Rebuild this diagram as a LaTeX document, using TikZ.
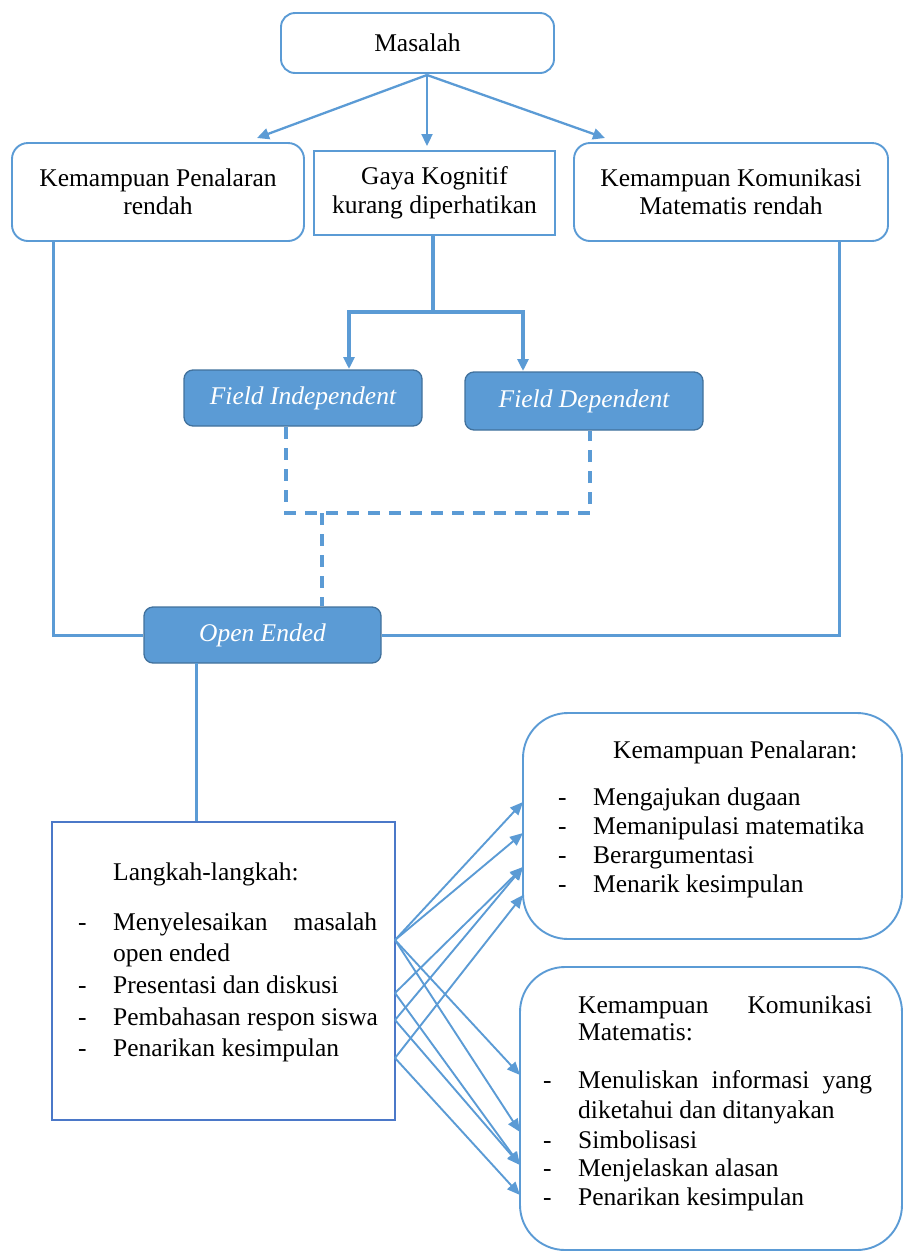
\documentclass[tikz,border=0pt]{standalone}
\usepackage{fontspec}
\setmainfont{Liberation Serif}
\usetikzlibrary{arrows.meta}
\definecolor{lblue}{RGB}{91,155,213}
\definecolor{dblue}{RGB}{65,113,156}
\definecolor{kblue}{RGB}{75,120,200}
\begin{document}
\begin{tikzpicture}[x=1pt,y=-1pt,
  txt/.style={font=\fontsize{25.5}{28.5}\selectfont, inner sep=0pt, text=black},
  wbox/.style={draw=lblue, line width=1.9pt, fill=white, rounded corners=14pt, align=center, txt},
  sbox/.style={draw=lblue, line width=1.9pt, fill=white, align=center, txt},
  bbox/.style={draw=dblue, line width=1.3pt, fill=lblue, rounded corners=9pt, txt, text=white, font=\fontsize{25.5}{28.5}\selectfont\itshape},
  bigbox/.style={draw=lblue, line width=1.9pt, fill=white, rounded corners=45pt},
  ln/.style={draw=lblue, line width=3pt},
  dsh/.style={draw=lblue, line width=3.4pt, dash pattern=on 12pt off 9pt},
  arr/.style={draw=lblue, line width=2.3pt, -{Triangle[length=12pt,width=11pt]}},
  arrb/.style={draw=lblue, line width=3.2pt, -{Triangle[length=12pt,width=11pt]}},
  farr/.style={draw=lblue, line width=1.9pt, -{Triangle[length=13pt,width=11pt]}},
  lw/.style={txt, anchor=base west}
]
\useasboundingbox (0,0) rectangle (904,1251);

% top boxes
\node[wbox, minimum width=273pt, minimum height=60pt] (ms) at (417.5,43) {Masalah};
\node[wbox, rounded corners=16pt, minimum width=292pt, minimum height=98pt] (kp) at (158,192) {Kemampuan Penalaran\\rendah};
\node[sbox, minimum width=241pt, minimum height=84pt] (gk) at (434.5,193) {Gaya Kognitif\\kurang diperhatikan};
\node[wbox, rounded corners=16pt, minimum width=314pt, minimum height=98pt] (kk) at (731,192) {Kemampuan Komunikasi\\Matematis rendah};

% arrows from Masalah
\coordinate (mf) at (427,75);
\coordinate (kpt) at (257,138);
\coordinate (gkt) at (427,146);
\coordinate (kkt) at (605,138);
\draw[arr] (mf) -- (kpt);
\draw[arr] (mf) -- (gkt);
\draw[arr] (mf) -- (kkt);

% cognitive style boxes
\node[bbox, minimum width=238pt, minimum height=56pt] (fi) at (303,398) {Field Independent};
\node[bbox, minimum width=238pt, minimum height=58pt] (fd) at (584,401) {Field Dependent};

\coordinate (gkb) at (433,235);
\coordinate (gf) at (433,312);
\coordinate (fit) at (349,369);
\coordinate (fdt) at (523,371);
\draw[ln, line width=3.4pt] (gkb) -- (gf);
\draw[arrb] (gf) -| (fit);
\draw[arrb] (gf) -| (fdt);

% open ended
\node[bbox, minimum width=237pt, minimum height=56pt] (oe) at (262.5,635) {Open Ended};

% dashed connection
\coordinate (fib) at (286,427);
\coordinate (fdb) at (590,431);
\coordinate (dj) at (322,513);
\draw[dsh] (fib) |- (dj) -| (fdb);
\draw[dsh] (dj) -- (dj |- oe.north);

% side lines
\coordinate (kpb) at (53,241);
\coordinate (kkb) at (839,241);
\draw[ln] (kpb) |- (oe.west);
\draw[ln] (kkb) |- (oe.east);

% steps box
\node[draw=kblue, line width=2pt, fill=white, minimum width=343pt, minimum height=298pt, inner sep=0pt] (lk) at (223.5,971) {};
\coordinate (oeb) at (196,663);
\draw[ln] (oeb) -- (oeb |- lk.north);

\node[lw] (lkt) at (113,880) {Langkah-langkah:};
\node[lw] (ld1) at (78,930) {-};
\node[lw] (la1) at (113,930) {\makebox[264pt][s]{Menyelesaikan masalah}};
\node[lw] (la1b) at (113,961) {open ended};
\node[lw] (ld2) at (78,993) {-};
\node[lw] (la2) at (113,993) {Presentasi dan diskusi};
\node[lw] (ld3) at (78,1025) {-};
\node[lw] (la3) at (113,1025) {Pembahasan respon siswa};
\node[lw] (ld4) at (78,1056) {-};
\node[lw] (la4) at (113,1056) {Penarikan kesimpulan};

% right boxes
\node[bigbox, minimum width=379pt, minimum height=226pt] (r1) at (712.5,826) {};
\node[bigbox, minimum width=382pt, minimum height=283pt] (r2) at (711,1108.5) {};

\node[lw] (r1t) at (613,758) {Kemampuan Penalaran:};
\foreach \t/\y [count=\i] in {Mengajukan dugaan/805, Memanipulasi matematika/834, Berargumentasi/863, Menarik kesimpulan/892}{
  \node[lw] (r1d\i) at (558,\y) {-};
  \node[lw] (r1i\i) at (593,\y) {\t};
}

\node[lw] (r2t) at (578,1013) {\makebox[294pt][s]{Kemampuan Komunikasi}};
\node[lw] (r2t2) at (578,1040) {Matematis:};
\node[lw] (r2d1) at (543,1088) {-};
\node[lw] (r2i1) at (578,1088) {\makebox[294pt][s]{Menuliskan informasi yang}};
\node[lw] (r2i1b) at (578,1118) {diketahui dan ditanyakan};
\node[lw] (r2d2) at (543,1148) {-};
\node[lw] (r2i2) at (578,1148) {Simbolisasi};
\node[lw] (r2d3) at (543,1176) {-};
\node[lw] (r2i3) at (578,1176) {Menjelaskan alasan};
\node[lw] (r2d4) at (543,1205) {-};
\node[lw] (r2i4) at (578,1205) {Penarikan kesimpulan};

% fan of arrows
\coordinate (s1) at (395,940);
\coordinate (s2) at (395,993);
\coordinate (s3) at (395,1020);
\coordinate (s4) at (395,1058);
\coordinate (t1) at (523,802);
\coordinate (t2) at (523,833);
\coordinate (t3) at (523,867);
\coordinate (t4) at (523,895);
\coordinate (b1) at (520,1075);
\coordinate (b2) at (520,1132);
\coordinate (b3) at (520,1165);
\coordinate (b4) at (520,1195);
\draw[farr] (s1) -- (t1);
\draw[farr] (s1) -- (t2);
\draw[farr] (s2) -- (t3);
\draw[farr] (s3) -- (t3);
\draw[farr] (s4) -- (t4);
\draw[farr] (s1) -- (b1);
\draw[farr] (s1) -- (b2);
\draw[farr] (s2) -- (b3);
\draw[farr] (s3) -- (b3);
\draw[farr] (s4) -- (b4);
\end{tikzpicture}
\end{document}
